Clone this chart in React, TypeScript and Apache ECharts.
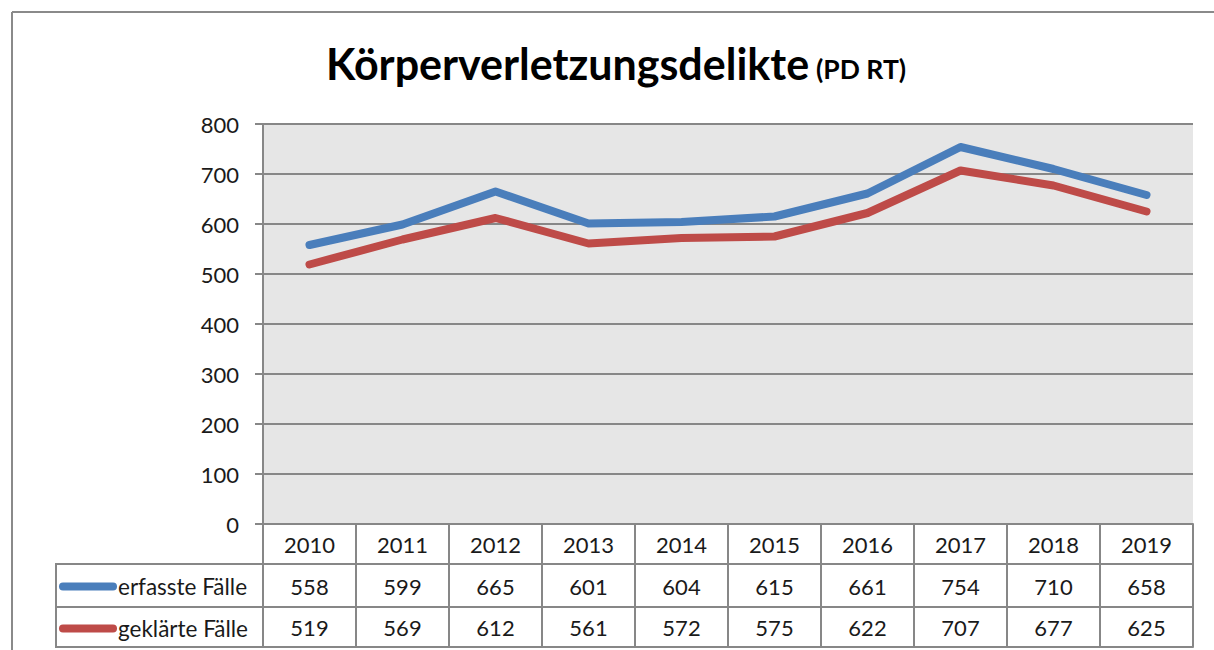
import React, { useEffect, useRef } from "react";
import * as echarts from "echarts";

const years = ["2010", "2011", "2012", "2013", "2014", "2015", "2016", "2017", "2018", "2019"];
const erfasst = [558, 599, 665, 601, 604, 615, 661, 754, 710, 658];
const geklaert = [519, 569, 612, 561, 572, 575, 622, 707, 677, 625];
const seriesNames = ["erfasste Fälle", "geklärte Fälle"];
const yTicks = { min: 0, max: 800, interval: 100 };

const FONT = "Lato, 'Noto Sans', sans-serif";
const GRID_COLOR = "#878787";
const TEXT = "#1a1a1a";
const BLUE = "#4A7EBB";
const RED = "#BE4B48";
const capsule = "path://M4,0 H54 A4,4 0 0 1 54,8 H4 A4,4 0 0 1 4,0 Z";

export default function App() {
  const ref = useRef<HTMLDivElement>(null);
  useEffect(() => {
    if (!ref.current) return;
    const chart = echarts.init(ref.current, undefined, { renderer: "svg" });
    const gridLeft = 263, gridRight = 21, gridTop = 124, gridBottom = 126;
    const tableLine = { color: GRID_COLOR, width: 2 };
    const labelBase = { fontSize: 22, color: TEXT, fontFamily: FONT, verticalAlign: "middle" as const };
    chart.setOption({
      animation: false,
      backgroundColor: "#ffffff",
      title: {
        text: "{a|Körperverletzungsdelikte} {b|(PD RT)}",
        left: 326,
        top: 33,
        padding: 0,
        textStyle: {
          rich: {
            a: { fontSize: 43, fontWeight: "bold", fontFamily: FONT, color: "#000", lineHeight: 52, verticalAlign: "bottom" },
            b: { fontSize: 26.5, fontWeight: "bold", fontFamily: FONT, color: "#000", lineHeight: 52, verticalAlign: "bottom", padding: [0, 0, 3, 2] },
          },
        },
      },
      grid: {
        left: gridLeft,
        right: gridRight,
        top: gridTop,
        bottom: gridBottom,
        show: true,
        backgroundColor: "#e6e6e6",
        borderWidth: 0,
      },
      legend: [
        {
          data: [seriesNames[0]],
          left: 59,
          top: 575,
          padding: 0,
          icon: capsule,
          itemWidth: 58,
          itemHeight: 9,
          textStyle: { fontSize: 22.5, color: TEXT, fontFamily: FONT, padding: [0, 0, 0, -4] },
          selectedMode: false,
        },
        {
          data: [seriesNames[1]],
          left: 59,
          top: 617,
          padding: 0,
          icon: capsule,
          itemWidth: 58,
          itemHeight: 9,
          textStyle: { fontSize: 22.5, color: TEXT, fontFamily: FONT, padding: [0, 0, 0, -4] },
          selectedMode: false,
        },
      ],
      xAxis: [
        {
          type: "category",
          data: years,
          boundaryGap: true,
          position: "bottom",
          axisLine: { show: true, lineStyle: tableLine },
          axisTick: { show: true, length: 123, interval: 0, lineStyle: tableLine },
          axisLabel: { ...labelBase, interval: 0, margin: 20 },
        },
        {
          type: "category",
          data: years,
          position: "bottom",
          offset: 40,
          axisLine: { show: true, lineStyle: tableLine },
          axisTick: { show: false },
          axisLabel: { ...labelBase, interval: 0, margin: 22, formatter: (_v: string, i: number) => String(erfasst[i]) },
        },
        {
          type: "category",
          data: years,
          position: "bottom",
          offset: 83,
          axisLine: { show: true, lineStyle: tableLine },
          axisTick: { show: false },
          axisLabel: { ...labelBase, interval: 0, margin: 20, formatter: (_v: string, i: number) => String(geklaert[i]) },
        },
        {
          type: "category",
          data: years,
          position: "bottom",
          offset: 123,
          axisLine: { show: true, lineStyle: tableLine },
          axisTick: { show: false },
          axisLabel: { show: false },
        },
      ],
      yAxis: {
        type: "value",
        min: yTicks.min,
        max: yTicks.max,
        interval: yTicks.interval,
        axisLine: { show: true, lineStyle: { color: GRID_COLOR, width: 2 } },
        axisTick: { show: true, length: 8, lineStyle: { color: GRID_COLOR, width: 2 } },
        axisLabel: { fontSize: 22, color: TEXT, fontFamily: FONT, margin: 24 },
        splitLine: { show: true, lineStyle: { color: GRID_COLOR, width: 2 } },
      },
      series: [
        {
          name: seriesNames[0],
          type: "line",
          data: erfasst,
          xAxisIndex: 0,
          symbol: "none",
          color: BLUE,
          lineStyle: { width: 8, color: BLUE, cap: "round", join: "round" },
        },
        {
          name: seriesNames[1],
          type: "line",
          data: geklaert,
          xAxisIndex: 0,
          symbol: "none",
          color: RED,
          lineStyle: { width: 8, color: RED, cap: "round", join: "round" },
        },
      ],
      graphic: [
        { type: "line", shape: { x1: 12, y1: 12, x2: 1214, y2: 12 }, style: { stroke: "#8a8a8a", lineWidth: 2 } },
        { type: "line", shape: { x1: 12, y1: 12, x2: 12, y2: 650 }, style: { stroke: "#8a8a8a", lineWidth: 2 } },
        { type: "line", shape: { x1: 56, y1: 564, x2: 263, y2: 564 }, style: { stroke: GRID_COLOR, lineWidth: 2 } },
        { type: "line", shape: { x1: 56, y1: 607, x2: 263, y2: 607 }, style: { stroke: GRID_COLOR, lineWidth: 2 } },
        { type: "line", shape: { x1: 56, y1: 647, x2: 263, y2: 647 }, style: { stroke: GRID_COLOR, lineWidth: 2 } },
        { type: "line", shape: { x1: 56, y1: 563, x2: 56, y2: 648 }, style: { stroke: GRID_COLOR, lineWidth: 2 } },
      ],
    });
    return () => chart.dispose();
  }, []);
  return <div ref={ref} style={{ position: "fixed", left: 0, top: 0, width: 1214, height: 650 }} />;
}
